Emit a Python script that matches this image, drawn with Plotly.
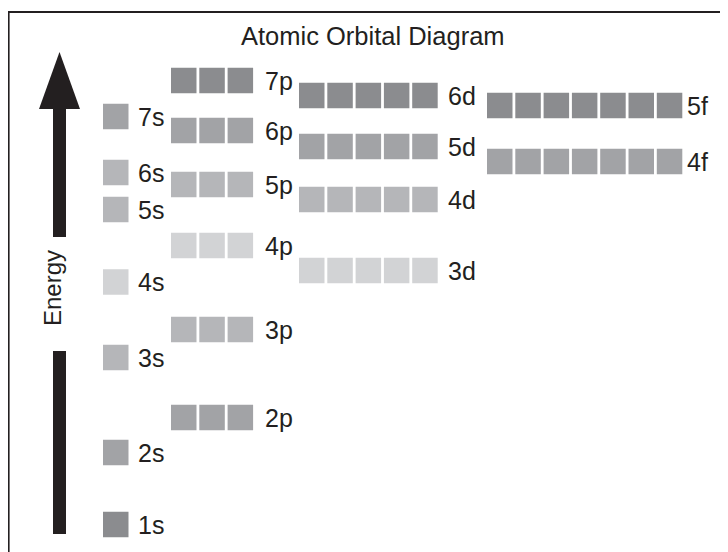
import plotly.graph_objects as go

# ---------------- data ----------------
orbitals = ["1s", "2s", "2p", "3s", "3p", "4s", "3d", "4p", "5s", "4d",
            "5p", "6s", "4f", "5d", "6p", "7s", "5f", "6d", "7p"]
# relative energy level of each orbital (arbitrary units)
energy = [0.0, 7.2, 10.7, 16.7, 19.5, 24.25, 25.4, 27.9, 31.5, 32.5,
          34.0, 35.2, 36.3, 37.8, 39.4, 40.8, 41.9, 42.9, 44.4]
# shade group of each orbital (0 darkest .. 3 lightest)
shade = [0, 1, 1, 2, 2, 3, 3, 3, 2, 2,
         2, 2, 1, 1, 1, 1, 0, 0, 0]
boxes_per_subshell = {"s": 1, "p": 3, "d": 5, "f": 7}
title_text = "Atomic Orbital Diagram"
axis_text = "Energy"

# ---------------- style / layout ----------------
# the page body has an 8px margin, so the figure covers window px 8..728 / 8..552
OFF = 8
W, H = 728 - OFF, 552 - OFF
shade_colors = ["#8b8c8f", "#a2a3a6", "#b5b6b9", "#d2d3d5"]
col_left = {"s": 103, "p": 171, "d": 299, "f": 487}     # window px, left edge of first box
label_left = {"s": 136, "p": 263, "d": 446, "f": 685}   # window px, label start
slot = 28.3
box = 25.5
text_color = "#231f20"
FONT = "Liberation Sans, Arial, Helvetica, sans-serif"
E_TOP, E_BOTTOM = 51.65, -2.75   # energy range mapped to figure height


def py(px):
    return 1 - (px - OFF) / H


fig = go.Figure()

for name, e, sh in zip(orbitals, energy, shade):
    kind = name[-1]
    n = boxes_per_subshell[kind]
    xs = [col_left[kind] + k * slot + box / 2 for k in range(n)]
    fig.add_trace(go.Scatter(
        x=xs, y=[e] * n, mode="markers",
        marker=dict(symbol="square", size=box, color=shade_colors[sh],
                    line=dict(width=0)),
        hoverinfo="text", text=[name] * n, showlegend=False))
    fig.add_annotation(x=label_left[kind], y=e, xref="x", yref="y",
                       text=name, showarrow=False, xanchor="left",
                       yanchor="middle",
                       font=dict(family=FONT, size=25, color=text_color))

# title
fig.add_annotation(x=373, y=py(36), xref="x", yref="paper",
                   text=title_text, showarrow=False, xanchor="center",
                   yanchor="middle",
                   font=dict(family=FONT, size=25.5, color=text_color))
# energy label
fig.add_annotation(x=52, y=py(288), xref="x", yref="paper",
                   text=axis_text, showarrow=False, textangle=-90,
                   xanchor="center", yanchor="middle",
                   font=dict(family=FONT, size=24, color=text_color))

shapes = []
# frame
shapes.append(dict(type="rect", xref="x", yref="paper", x0=8.6, x1=760,
                   y0=py(12), y1=py(600),
                   line=dict(color="#231f20", width=2), fillcolor="rgba(0,0,0,0)"))
# arrow head
shapes.append(dict(type="path", xref="x", yref="paper",
                   path=f"M 59.5 {py(52)} L 80 {py(109)} L 39 {py(109)} Z",
                   fillcolor="#231f20", line=dict(width=0)))
# arrow shafts
shapes.append(dict(type="rect", xref="x", yref="paper", x0=53, x1=66,
                   y0=py(237), y1=py(104), fillcolor="#231f20", line=dict(width=0)))
shapes.append(dict(type="rect", xref="x", yref="paper", x0=53, x1=66,
                   y0=py(534), y1=py(351), fillcolor="#231f20", line=dict(width=0)))

fig.update_layout(
    width=W, height=H, margin=dict(l=0, r=0, t=0, b=0),
    paper_bgcolor="white", plot_bgcolor="white",
    xaxis=dict(range=[OFF, 728], visible=False, fixedrange=True),
    yaxis=dict(range=[E_BOTTOM, E_TOP], visible=False, fixedrange=True),
    shapes=shapes,
)

fig.write_html("out.html")
